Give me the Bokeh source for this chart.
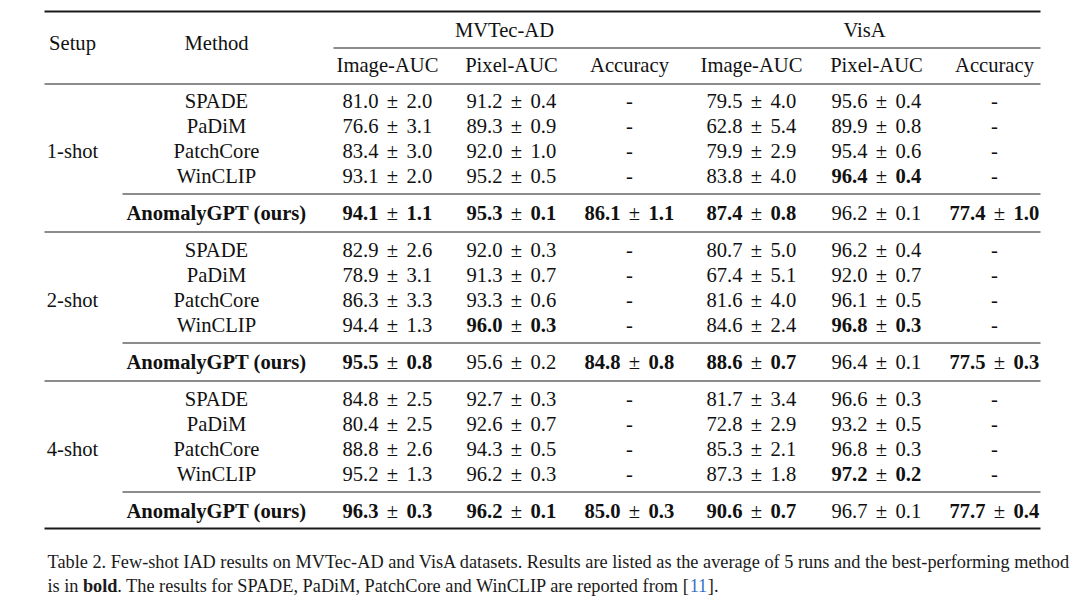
from bokeh.plotting import figure
from bokeh.models import ColumnDataSource, Range1d
from bokeh.core.properties import value
from bokeh.embed import file_html
from bokeh.resources import INLINE

# ---------------- data ----------------
setups = ["1-shot", "2-shot", "4-shot"]
methods = ["SPADE", "PaDiM", "PatchCore", "WinCLIP", "AnomalyGPT (ours)"]
datasets = ["MVTec-AD", "VisA"]
metrics = ["Image-AUC", "Pixel-AUC", "Accuracy"]

mvtec_img_mean = [[81.0, 76.6, 83.4, 93.1, 94.1], [82.9, 78.9, 86.3, 94.4, 95.5], [84.8, 80.4, 88.8, 95.2, 96.3]]
mvtec_img_std = [[2.0, 3.1, 3.0, 2.0, 1.1], [2.6, 3.1, 3.3, 1.3, 0.8], [2.5, 2.5, 2.6, 1.3, 0.3]]
mvtec_pix_mean = [[91.2, 89.3, 92.0, 95.2, 95.3], [92.0, 91.3, 93.3, 96.0, 95.6], [92.7, 92.6, 94.3, 96.2, 96.2]]
mvtec_pix_std = [[0.4, 0.9, 1.0, 0.5, 0.1], [0.3, 0.7, 0.6, 0.3, 0.2], [0.3, 0.7, 0.5, 0.3, 0.1]]
mvtec_acc_mean = [86.1, 84.8, 85.0]   # AnomalyGPT only
mvtec_acc_std = [1.1, 0.8, 0.3]

visa_img_mean = [[79.5, 62.8, 79.9, 83.8, 87.4], [80.7, 67.4, 81.6, 84.6, 88.6], [81.7, 72.8, 85.3, 87.3, 90.6]]
visa_img_std = [[4.0, 5.4, 2.9, 4.0, 0.8], [5.0, 5.1, 4.0, 2.4, 0.7], [3.4, 2.9, 2.1, 1.8, 0.7]]
visa_pix_mean = [[95.6, 89.9, 95.4, 96.4, 96.2], [96.2, 92.0, 96.1, 96.8, 96.4], [96.6, 93.2, 96.8, 97.2, 96.7]]
visa_pix_std = [[0.4, 0.8, 0.6, 0.4, 0.1], [0.4, 0.7, 0.5, 0.3, 0.1], [0.3, 0.5, 0.3, 0.2, 0.1]]
visa_acc_mean = [77.4, 77.5, 77.7]
visa_acc_std = [1.0, 0.3, 0.4]

caption_line1 = ("Table 2. Few-shot IAD results on MVTec-AD and VisA datasets. Results are listed "
                 "as the average of 5 runs and the best-performing method")
caption_line2 = [("is in ", "normal", "#1a1a1a"), ("bold", "bold", "#1a1a1a"),
                 (". The results for SPADE, PaDiM, PatchCore and WinCLIP are reported from [", "normal", "#1a1a1a"),
                 ("11", "normal", "#3a6fc6"), ("].", "normal", "#1a1a1a")]

# ---------------- layout constants ----------------
FONT = "Liberation Serif"
FS = "20.6px"
CAP_FS_PX = 18.3
CAP_W_SCALE = 0.994
TXT = "#111111"
RULE = "#1a1a1a"

X_LEFT, X_RIGHT = 44, 1040
X_SETUP, X_METHOD = 72, 216
COL_X = [387, 511, 629, 751, 876, 994]
GROUP_X = [504, 864]
PM_OFF, PM_GAP = 5, 14
Y_GROUP, Y_SETUP, Y_SUB = 29, 42, 64
Y_TOP, Y_CMID, Y_HEAD = 11, 47.5, 83.5
ROW0, ROW_STEP, BLOCK_STEP = 100, 25.3, 149
Y_OURS0 = 212
CAP_X, CAP_Y1, CAP_Y2 = 47, 561, 585


def expand_acc(means, stds):
    m = [[None] * 4 + [v] for v in means]
    s = [[None] * 4 + [v] for v in stds]
    return m, s


cols = [
    (mvtec_img_mean, mvtec_img_std),
    (mvtec_pix_mean, mvtec_pix_std),
    expand_acc(mvtec_acc_mean, mvtec_acc_std),
    (visa_img_mean, visa_img_std),
    (visa_pix_mean, visa_pix_std),
    expand_acc(visa_acc_mean, visa_acc_std),
]

texts = {}


def add(x, y, t, style="normal", align="center", color=TXT, size=FS):
    key = (style, align, color, size)
    d = texts.setdefault(key, {"x": [], "y": [], "text": []})
    d["x"].append(x)
    d["y"].append(y)
    d["text"].append(t)


# headers
add(X_SETUP, Y_SETUP, "Setup")
add(X_METHOD, Y_SETUP, "Method")
for i, ds in enumerate(datasets):
    add(GROUP_X[i], Y_GROUP, ds)
    for j, mt in enumerate(metrics):
        add(COL_X[i * 3 + j], Y_SUB, mt)


def row_y(b, r):
    if r == 4:
        return Y_OURS0 + BLOCK_STEP * b
    return ROW0 + BLOCK_STEP * b + ROW_STEP * r


for b, st in enumerate(setups):
    add(X_SETUP, row_y(b, 2), st)
    for r, m in enumerate(methods):
        y = row_y(b, r)
        add(X_METHOD, y, m, style="bold" if r == 4 else "normal")
    for c, (mean, std) in enumerate(cols):
        cand = [(mean[b][r], -std[b][r], r) for r in range(5) if mean[b][r] is not None]
        best = max(cand)[2]
        for r in range(5):
            y = row_y(b, r)
            x = COL_X[c]
            if mean[b][r] is None:
                add(x, y, "-")
                continue
            stl = "bold" if r == best else "normal"
            pm = x + PM_OFF
            add(pm - PM_GAP, y, f"{mean[b][r]:.1f}", style=stl, align="right")
            add(pm, y, "±")
            add(pm + PM_GAP, y, f"{std[b][r]:.1f}", style=stl, align="left")

# caption: approximate Times advance widths (per 1000 em) to place inline runs
W_REG = {" ": 250, ".": 250, ",": 250, "[": 333, "]": 333, "1": 500,
         "T": 611, "S": 556, "P": 556, "A": 722, "D": 722, "E": 611, "M": 889, "C": 667,
         "W": 944, "L": 611, "I": 333,
         "a": 444, "b": 500, "c": 444, "d": 500, "e": 444, "f": 333, "h": 500, "i": 278,
         "l": 278, "m": 778, "n": 500, "o": 500, "p": 500, "r": 333, "s": 389, "t": 278, "u": 500}
W_BOLD = {"b": 556, "o": 500, "l": 278, "d": 556}

cap_fs = f"{CAP_FS_PX}px"
add(CAP_X, CAP_Y1, caption_line1, align="left", color="#1a1a1a", size=cap_fs)
cx = CAP_X
for t, stl, col in caption_line2:
    add(cx, CAP_Y2, t, style=stl, align="left", color=col, size=cap_fs)
    table = W_BOLD if stl == "bold" else W_REG
    cx += sum(table.get(ch, 500) for ch in t) / 1000.0 * CAP_FS_PX * CAP_W_SCALE

# ---------------- figure ----------------
W, H = 1076, 600
p = figure(width=W, height=H, x_range=Range1d(0, W), y_range=Range1d(H, 0),
           output_backend="svg", toolbar_location=None, x_axis_type=None, y_axis_type=None,
           min_border=0, outline_line_color=None, background_fill_color="white",
           border_fill_color="white")
p.grid.visible = False

# rules
thick = dict(x0=[X_LEFT, X_LEFT], x1=[X_RIGHT, X_RIGHT], y0=[Y_TOP, 528], y1=[Y_TOP, 528])
p.segment(x0="x0", y0="y0", x1="x1", y1="y1", source=ColumnDataSource(thick),
          line_color=RULE, line_width=1.9)
thin_x0, thin_x1, thin_y = [333, X_LEFT], [X_RIGHT, X_RIGHT], [Y_CMID, Y_HEAD]
for b in range(len(setups)):
    yo = row_y(b, 4) - 18.5
    thin_x0.append(122); thin_x1.append(X_RIGHT); thin_y.append(yo)
    if b < len(setups) - 1:
        thin_x0.append(X_LEFT); thin_x1.append(X_RIGHT); thin_y.append(row_y(b, 4) + 19.5)
p.segment(x0="x0", y0="y", x1="x1", y1="y",
          source=ColumnDataSource(dict(x0=thin_x0, x1=thin_x1, y=thin_y)),
          line_color=RULE, line_width=1.1)

for (style, align, color, size), d in texts.items():
    p.text(x="x", y="y", text="text", source=ColumnDataSource(d),
           text_font=value(FONT), text_font_size=value(size), text_font_style=style,
           text_align=align, text_baseline="middle", text_color=color)

open("out.html", "w").write(file_html(p, INLINE))
